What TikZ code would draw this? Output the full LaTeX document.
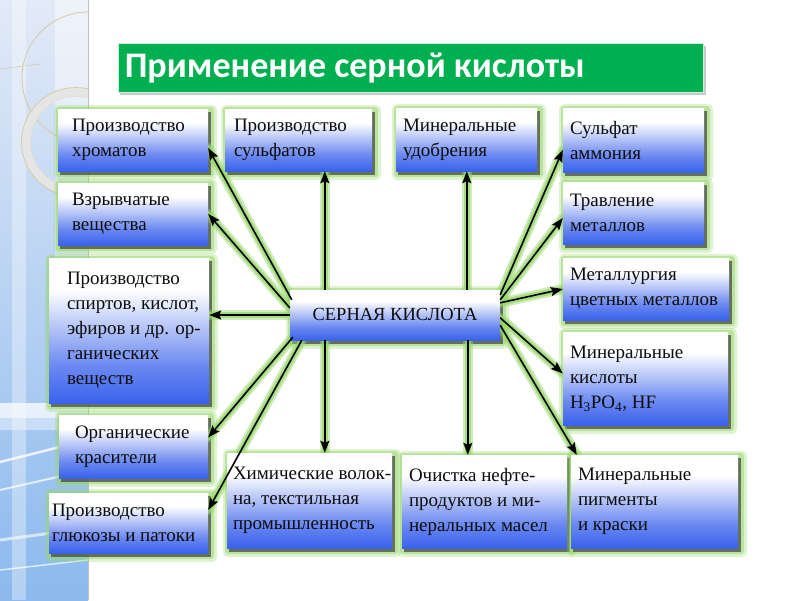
\documentclass[tikz,border=0pt]{standalone}
\usepackage{fontspec}
\setmainfont{Liberation Serif}
\newfontfamily\titlefont{Carlito}
\usetikzlibrary{fit,arrows.meta,backgrounds,calc}

\definecolor{boxblue}{RGB}{58,98,236}
\definecolor{glowg}{RGB}{150,215,105}
\definecolor{titleg}{RGB}{0,176,80}
\definecolor{decotop}{RGB}{226,234,247}
\definecolor{decobot}{RGB}{140,185,238}
\definecolor{arcc}{RGB}{215,200,160}
\pgfdeclareverticalshading{boxshade}{100bp}{color(0bp)=(boxblue); color(25bp)=(boxblue); color(38bp)=(boxblue!75!white); color(64bp)=(white); color(100bp)=(white)}

\tikzset{
  boxshape/.style={shading=boxshade, draw=none, inner sep=0pt},
  txt/.style={font=\fontsize{19}{25}\selectfont, align=left, inner sep=0pt, text=black!95},
  glowa/.style={fill=glowg, opacity=0.3, rounded corners=5pt},
  glowb/.style={fill=glowg, opacity=0.5, rounded corners=3pt},
  shad/.style={fill=black!75, opacity=0.7},
  arr/.style={draw=black, line width=1.6pt, -{Stealth[length=12pt,width=9pt,inset=2pt]}},
  arrglowa/.style={draw=glowg, opacity=0.45, line width=10pt, line cap=round},
  arrglowb/.style={draw=glowg, opacity=0.7, line width=6pt, line cap=round},
}

\newcommand\bx[7]{%
  \begin{pgfonlayer}{background}
    \fill[glowa] (#2-4,#3-4) rectangle (#4+9,#5+9);
    \fill[glowb] (#2-2,#3-2) rectangle (#4+6,#5+6);
    \fill[shad] (#2+2,#3+3) rectangle (#4+3,#5+4);
  \end{pgfonlayer}
  \node[boxshape, fit={(#2,#3) (#4,#5)}] (#1) {};
  \node[txt, anchor=west] (#1t) at ([xshift=#6pt]#1.west) {#7};
}

\pgfdeclarelayer{deco}
\pgfsetlayers{deco,background,main}

\begin{document}
\begin{tikzpicture}[x=1pt,y=-1pt]
\useasboundingbox (0,0) rectangle (800,600);

% ---------- left decoration ----------
\begin{pgfonlayer}{deco}
  \fill[white] (0,0) rectangle (800,600);
  \begin{scope}
    \clip (0,0) rectangle (88,600);
    \shade[top color=decotop, bottom color=decobot] (0,0) rectangle (88,600);
    \fill[white, opacity=0.45] (55,0) rectangle (88,400);
    \fill[white, opacity=0.35] (12,0) rectangle (26,600);
    \fill[white, opacity=0.75] (0,403) rectangle (88,418);
    \fill[white, opacity=0.4] (0,418) rectangle (88,430);
    \draw[white, line width=2.5pt, opacity=0.8] (0,462) -- (88,440);
    \draw[white, line width=2pt, opacity=0.7] (0,490) -- (88,470);
    \draw[white, line width=3pt, opacity=0.6] (0,540) -- (88,528);
    \draw[white, line width=1.5pt, opacity=0.7] (0,570) -- (88,560);
    \draw[arcc, line width=0.8pt] (88,78) circle (66);
    \draw[arcc, line width=0.6pt] (0,69) -- (40,64);
    \draw[black!10, line width=9pt] (76,142) circle (50);
    \draw[arcc, line width=0.7pt] (76,142) circle (54.5);
    \draw[arcc!60, line width=0.5pt] (76,142) circle (45.5);
  \end{scope}
  \draw[black!25, line width=0.6pt] (88,0) -- (88,600);
\end{pgfonlayer}

% ---------- title ----------
\begin{pgfonlayer}{background}
  \fill[black!35, opacity=0.6] (120,46) rectangle (706,95);
\end{pgfonlayer}
\node[fill=titleg, draw=white!80!titleg, line width=0.8pt, inner sep=0pt, fit={(118,43) (703,92)}] (title) {};
\node[anchor=west, text=white, font=\titlefont\bfseries\fontsize{36}{40}\selectfont, inner sep=0pt] (titlet) at ([xshift=7pt,yshift=-1pt]title.west) {Применение серной кислоты};

% ---------- boxes ----------
\bx{n1}{58}{109}{208}{171}{14}{Производство\\хроматов}
\bx{n2}{225}{109}{372}{171}{9}{Производство\\сульфатов}
\bx{n3}{396}{108}{537}{171}{7}{Минеральные\\удобрения}
\bx{n4}{563}{108}{704}{172}{7}{Сульфат\\аммония}
\bx{n5}{58}{183}{208}{245}{14}{Взрывчатые\\вещества}
\bx{n6}{563}{182}{704}{244}{7}{Травление\\металлов}
\bx{n7}{49}{258}{209}{403}{18}{Производство\\спиртов, кислот,\\эфиров и др. ор-\\ганических\\веществ}
\bx{n8}{563}{258}{729}{320}{7}{Металлургия\\цветных металлов}
\bx{n10}{563}{332}{728}{425}{7}{Минеральные\\кислоты\\H\textsubscript{3}PO\textsubscript{4}, HF}
\bx{n11}{59}{415}{208}{478}{16}{Органические\\красители}
\bx{n12}{49}{493}{208}{553}{3}{Производство\\глюкозы и патоки}
\bx{n13}{227}{453}{392}{548}{6}{Химические волок-\\на, текстильная\\промышленность}
\bx{n14}{402}{455}{567}{548}{7}{Очистка нефте-\\продуктов и ми-\\неральных масел}
\bx{n15}{571}{455}{738}{548}{7}{Минеральные\\пигменты\\и краски}

% central node
\begin{pgfonlayer}{background}
  \fill[glowa] (286,286) rectangle (509,349);
  \fill[glowb] (288,288) rectangle (506,346);
  \fill[shad] (292,293) rectangle (503,344);
\end{pgfonlayer}
\node[boxshape, fit={(290,290) (500,340)}] (c) {};
\node[font=\fontsize{18.5}{21}\selectfont, inner sep=0pt, text=black!95] (ct) at ([yshift=1pt]c.center) {СЕРНАЯ КИСЛОТА};

% ---------- connectors ----------
\coordinate (s1) at ([shift={(2,10)}]c.north west);
\coordinate (s5) at ([shift={(0,18)}]c.north west);
\coordinate (s11) at ([shift={(3,-3)}]c.south west);
\coordinate (s12) at ([shift={(12,0)}]c.south west);
\coordinate (s2) at ([shift={(35,0)}]c.north west);
\coordinate (s3) at ([shift={(177,0)}]c.north west);
\coordinate (s13) at ([shift={(35,0)}]c.south west);
\coordinate (s14) at ([shift={(178,0)}]c.south west);
\coordinate (s4) at ([shift={(0,5)}]c.north east);
\coordinate (s6) at ([shift={(0,10)}]c.north east);
\coordinate (s8) at ([shift={(0,13)}]c.north east);
\coordinate (s10) at ([shift={(0,28)}]c.north east);
\coordinate (s15) at ([shift={(0,-15)}]c.south east);

\coordinate (e1) at ([shift={(0,8)}]n1.east);
\coordinate (e5) at (n5.east);
\coordinate (e7) at (c.west -| n7.east);
\coordinate (e11) at ([shift={(0,-9)}]n11.east);
\coordinate (e12) at ([shift={(0,-13)}]n12.east);
\coordinate (e2) at (s2 |- n2.south);
\coordinate (e3) at (s3 |- n3.south);
\coordinate (e13) at (s13 |- n13.north);
\coordinate (e14) at (s14 |- n14.north);
\coordinate (e4) at ([shift={(0,10)}]n4.west);
\coordinate (e6) at ([shift={(0,5)}]n6.west);
\coordinate (e8) at (n8.west);
\coordinate (e10) at ([shift={(0,-5)}]n10.west);
\coordinate (e15) at ([shift={(6,0)}]n15.north west);

\begin{pgfonlayer}{background}
  \foreach \i in {1,5,11,12,2,3,13,14,4,6,8,10,15}{
    \draw[arrglowa] (s\i) -- (e\i);
    \draw[arrglowb] (s\i) -- (e\i);
  }
  \draw[arrglowa] (c.west) -- (e7);
  \draw[arrglowb] (c.west) -- (e7);
\end{pgfonlayer}
\foreach \i in {1,5,11,12,2,3,13,14,4,6,8,10,15}{
  \draw[arr] (s\i) -- (e\i);
}
\draw[arr] (c.west) -- (e7);

\end{tikzpicture}
\end{document}
